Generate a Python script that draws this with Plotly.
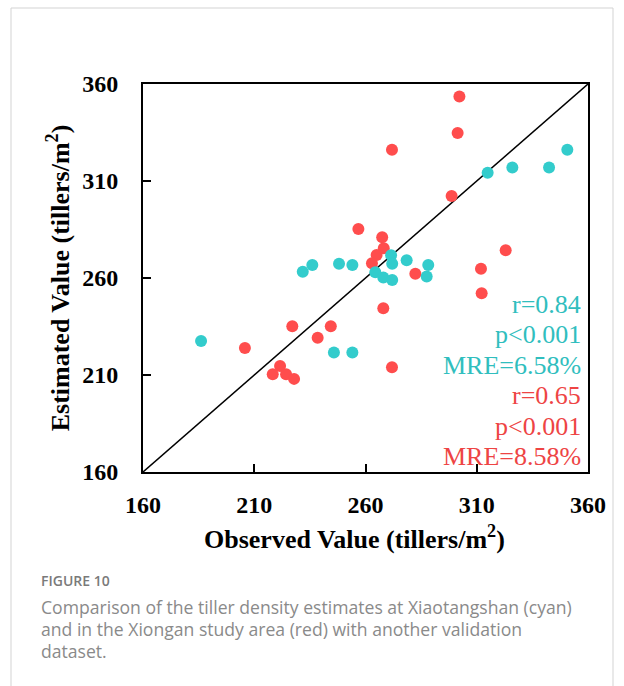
import plotly.graph_objects as go

# ---- data ----
cyan_obs = [186.1, 231.8, 236.1, 248.1, 254.1, 264.4, 268.0, 272.0, 271.5, 272.0,
            278.5, 288.2, 287.5, 245.8, 254.1, 314.9, 326.0, 342.5, 350.7]
cyan_est = [227.5, 263.2, 266.7, 267.4, 266.7, 263.0, 260.3, 259.0, 271.7, 267.4,
            269.2, 266.7, 260.8, 221.6, 221.6, 314.3, 316.9, 316.9, 326.1]

red_obs = [302.2, 301.4, 271.9, 298.7, 256.8, 267.5, 268.2, 265.0, 262.9, 282.4,
           311.9, 323.0, 312.2, 268.0, 271.9, 227.1, 205.8, 238.5, 244.4, 221.6,
           218.3, 224.3, 227.9]
red_est = [353.5, 334.7, 326.1, 302.3, 285.3, 281.0, 275.3, 271.9, 267.6, 262.2,
           264.8, 274.3, 252.1, 244.4, 214.0, 235.1, 223.9, 229.2, 235.1, 214.6,
           210.4, 210.4, 208.0]

one_to_one = [160, 360]
tick_vals = [160, 210, 260, 310, 360]

cyan_stats = ["r=0.84", "p<0.001", "MRE=6.58%"]
red_stats = ["r=0.65", "p<0.001", "MRE=8.58%"]

CYAN = "#33CCCC"
RED = "#FF4D4D"
CYAN_TXT = "#30BEBE"
RED_TXT = "#EE4444"

W, H = 624, 686
L, R, T, B = 143, 588, 84, 472  # plot area pixel bounds


def px_x(p):
    return (p - L) / (R - L)


def px_y(p):
    return (B - p) / (B - T)


fig = go.Figure()

fig.add_trace(go.Scatter(x=one_to_one, y=one_to_one, mode="lines",
                         line=dict(color="black", width=1.5),
                         showlegend=False, hoverinfo="skip"))
fig.add_trace(go.Scatter(x=red_obs, y=red_est, mode="markers",
                         marker=dict(color=RED, size=12, line=dict(width=0)),
                         showlegend=False))
fig.add_trace(go.Scatter(x=cyan_obs, y=cyan_est, mode="markers",
                         marker=dict(color=CYAN, size=12, line=dict(width=0)),
                         showlegend=False))

serif = "Liberation Serif"
axis_common = dict(
    range=[160, 360], tickvals=tick_vals, ticks="inside", ticklen=8,
    tickwidth=2, tickcolor="black", showline=True, linewidth=2,
    linecolor="black", mirror=True, showgrid=False, zeroline=False,
    tickfont=dict(family=serif, size=24, color="black", weight="bold"),
)

fig.update_xaxes(**axis_common, ticklabelstandoff=10)
fig.update_yaxes(**axis_common, ticklabelstandoff=18,
                 title=dict(text="Estimated Value (tillers/m<sup>2</sup>)",
                            font=dict(family=serif, size=26, color="black", weight="bold"),
                            standoff=5))

annotations = [dict(text="Observed Value (tillers/m<sup>2</sup>)", xref="paper",
                    yref="paper", x=px_x(354), y=px_y(537), xanchor="center",
                    yanchor="middle", showarrow=False,
                    font=dict(family=serif, size=26, color="black", weight="bold"))]
centers = [304, 334, 365, 395, 426, 456]
for i, (txt, col) in enumerate([(t, CYAN_TXT) for t in cyan_stats] +
                               [(t, RED_TXT) for t in red_stats]):
    annotations.append(dict(
        text=txt.replace("<", "&lt;"), xref="paper", yref="paper",
        x=px_x(583), y=px_y(centers[i]), xanchor="right", yanchor="middle",
        showarrow=False, font=dict(family=serif, size=26, color=col)))

annotations.append(dict(text="FIGURE 10", xref="paper", yref="paper",
                        x=px_x(39), y=px_y(580), xanchor="left", yanchor="middle",
                        showarrow=False,
                        font=dict(family="Open Sans", size=14, color="#7A7A7A",
                                  weight=600)))
caption = ["Comparison of the tiller density estimates at Xiaotangshan (cyan)",
           "and in the Xiongan study area (red) with another validation",
           "dataset."]
for i, line in enumerate(caption):
    annotations.append(dict(text=line, xref="paper", yref="paper",
                            x=px_x(39), y=px_y(607 + 22 * i), xanchor="left",
                            yanchor="middle", showarrow=False,
                            font=dict(family="Open Sans", size=17.6, color="#8A8A8A")))

fig.update_layout(
    width=W, height=H, autosize=False,
    margin=dict(l=L, r=W - R, t=T, b=H - B, pad=0),
    paper_bgcolor="white", plot_bgcolor="white",
    annotations=annotations,
    shapes=[dict(type="rect", xref="paper", yref="paper",
                 x0=px_x(11), x1=px_x(613), y0=px_y(720), y1=px_y(8),
                 line=dict(color="#D3D3D3", width=1), layer="below")],
)

fig.write_html("out.html")
